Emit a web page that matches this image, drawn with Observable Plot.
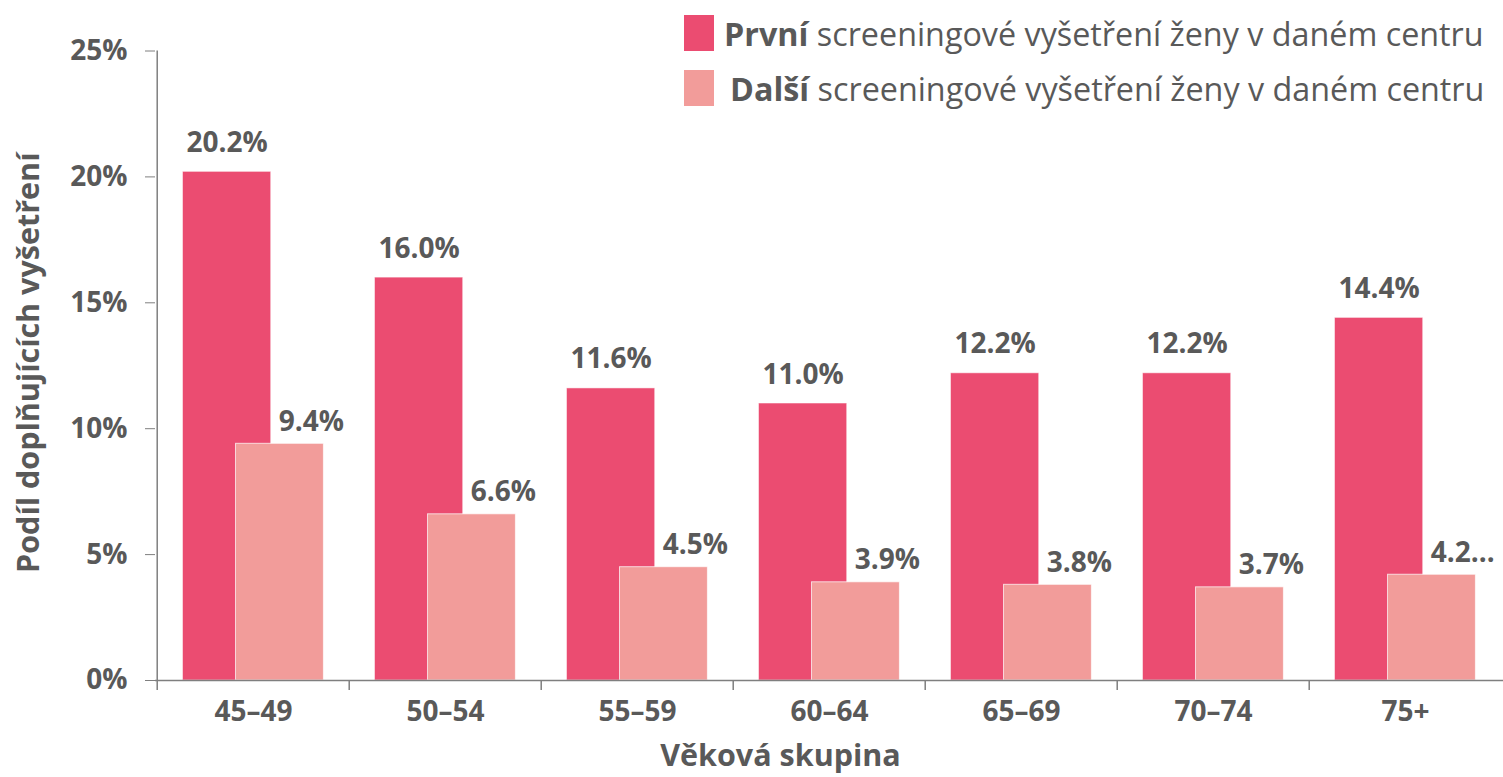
<!DOCTYPE html>
<html><head><meta charset="utf-8">
<script src="https://cdn.jsdelivr.net/npm/d3@7"></script>
<script src="https://cdn.jsdelivr.net/npm/@observablehq/plot@0.6"></script>
<style>
body{margin:0;background:#fff;font-family:"Open Sans",sans-serif;}
#wrap{position:relative;width:1503px;height:777px;overflow:hidden;}
.leg{position:absolute;display:flex;align-items:center;color:#595959;white-space:nowrap;}
.sw{position:absolute;width:30px;height:36px;}
#wrap svg g[aria-label="y-axis tick"] path{stroke:#7f7f7f;}
</style></head><body><div id="wrap"></div>
<script>
const categories = ["45–49","50–54","55–59","60–64","65–69","70–74","75+"];
const firstExam = [20.2,16.0,11.6,11.0,12.2,12.2,14.4];
const nextExam = [9.4,6.6,4.5,3.9,3.8,3.7,4.2];
const firstLabels = ["20.2%","16.0%","11.6%","11.0%","12.2%","12.2%","14.4%"];
const nextLabels = ["9.4%","6.6%","4.5%","3.9%","3.8%","3.7%","4.2…"];
const yTicks = [0,5,10,15,20,25];
const seriesBold = ["První","Další"];
const legendRest = " screeningové vyšetření ženy v daném centru";
const yTitle = "Podíl doplňujících vyšetření";
const xTitle = "Věková skupina";
const colors = ["#EB4C71","#F29C9A"];

const W=1503,H=777,mL=155,mR=0,mT=50.5,mB=97;
const plotH = H-mT-mB;
const bw = (W-mL-mR)/categories.length;
const ink = "#595959", axisInk = "#7f7f7f";
const fs = 28, tfs = 30.5;

const rows1 = categories.map((c,i)=>({cat:c,v:firstExam[i],label:firstLabels[i]}));
const rows2 = categories.map((c,i)=>({cat:c,v:nextExam[i],label:nextLabels[i]}));

const chart = Plot.plot({
  width:W,height:H,marginLeft:mL,marginRight:mR,marginTop:mT,marginBottom:mB,
  style:{fontFamily:'"Open Sans",sans-serif',fontSize:fs+"px",fontWeight:"bold",color:ink,background:"transparent"},
  x:{type:"band",domain:categories,padding:0,label:null},
  y:{domain:[0,25],label:null},
  marks:[
    Plot.barY(rows1,{x:"cat",y:"v",fill:colors[0],insetLeft:25.5,insetRight:78.3,stroke:"#fff",strokeOpacity:0.5,strokeWidth:1}),
    Plot.barY(rows2,{x:"cat",y:"v",fill:colors[1],insetLeft:78.5,insetRight:25.6,stroke:"#fff",strokeOpacity:0.7,strokeWidth:1}),
    Plot.ruleY([0],{stroke:axisInk,strokeWidth:1.5}),
    Plot.ruleX([categories[0]],{x:d=>d,dx:-bw/2,insetBottom:-10,stroke:axisInk,strokeWidth:1.5}),
    Plot.ruleX(categories.slice(1),{x:d=>d,dx:-bw/2,insetTop:plotH,insetBottom:-10,stroke:axisInk,strokeWidth:1.5}),
    Plot.axisY({ticks:yTicks,tickFormat:d=>d+"%",tickSize:10,tickPadding:18,label:null}),
    Plot.axisX({tickSize:0,tickPadding:21,label:null}),
    Plot.text(rows1,{x:"cat",y:"v",text:"label",dx:-26.5,dy:-20-0.32*fs,fill:ink,fontWeight:"bold",fontSize:fs}),
    Plot.text(rows2,{x:"cat",y:"v",text:"label",dx:25.2,dy:-13-0.32*fs,textAnchor:"start",fill:ink,fontWeight:"bold",fontSize:fs}),
    Plot.text([yTitle],{frameAnchor:"left",textAnchor:"middle",lineAnchor:"middle",rotate:-90,dx:-155+38-0.32*tfs,dy:-3,fill:ink,fontWeight:"bold",fontSize:tfs}),
    Plot.text([xTitle],{frameAnchor:"bottom",lineAnchor:"middle",dx:-49,dy:85-0.32*tfs,fill:ink,fontWeight:"bold",fontSize:tfs})
  ]
});
const wrap = document.getElementById("wrap");
wrap.appendChild(chart);

// legend
const cv = document.createElement("canvas").getContext("2d");
function widthAt(size){
  cv.font = `bold ${size}px "Open Sans"`; const a = cv.measureText(seriesBold[0]).width;
  cv.font = `${size}px "Open Sans"`; return a + cv.measureText(legendRest).width;
}
let lfs = 30; lfs = lfs*760/widthAt(lfs);
const legTops=[15,70], legLeft=[724,730];
seriesBold.forEach((b,i)=>{
  const sw=document.createElement("div"); sw.className="sw";
  sw.style.left="684px"; sw.style.top=legTops[i]+"px"; sw.style.background=colors[i];
  wrap.appendChild(sw);
  const t=document.createElement("div"); t.className="leg";
  t.style.left=legLeft[i]+"px"; t.style.top=legTops[i]+"px"; t.style.height="36px";
  t.style.fontSize=lfs.toFixed(2)+"px";
  t.innerHTML=`<span style="white-space:pre"><b>${b}</b>${legendRest}</span>`;
  wrap.appendChild(t);
});
</script></body></html>
